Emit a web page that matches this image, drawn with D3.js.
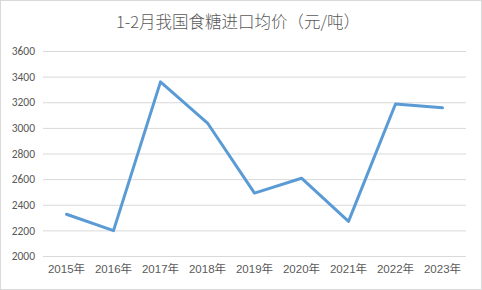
<!DOCTYPE html>
<html>
<head>
<meta charset="utf-8">
<script src="https://cdn.jsdelivr.net/npm/d3@7"></script>
<style>
  body { margin: 0; background: #fff; }
  svg { display: block; }
  .tick text { font-family: Calibri, Carlito, "Liberation Sans", "Noto Sans CJK SC", sans-serif; fill: #595959; }
</style>
</head>
<body>
<svg id="chart"></svg>
<script>
// data
const years  = ["2015年","2016年","2017年","2018年","2019年","2020年","2021年","2022年","2023年"];
const prices = [2326, 2198, 3359, 3038, 2491, 2607, 2270, 3186, 3157];
const yTicks = [2000, 2200, 2400, 2600, 2800, 3000, 3200, 3400, 3600];

const width     = 482,
      height    = 290,
      plotLeft  = 43,
      plotRight = 466,
      plotTop   = 51,
      plotBot   = 256;

const svg = d3.select('#chart')
              .attr('width', width)
              .attr('height', height);

svg.append('rect')
   .attr('x', 0.5).attr('y', 0.5)
   .attr('width', width - 1).attr('height', height - 1)
   .attr('fill', '#fff')
   .attr('stroke', '#d9d9d9');

svg.append('text')
   .attr('x', 238).attr('y', 28)
   .attr('text-anchor', 'middle')
   .attr('font-family', '"Noto Sans CJK SC", sans-serif')
   .attr('font-weight', 300)
   .attr('font-size', 16.5)
   .attr('fill', '#595959')
   .text('1-2月我国食糖进口均价（元/吨）');

const xScale = d3.scaleBand()
                 .domain(years)
                 .range([plotLeft, plotRight]);

const yScale = d3.scaleLinear()
                 .domain([2000, 3600])
                 .range([plotBot, plotTop]);

// grid + y labels
const yAxis = svg.append('g')
   .attr('transform', `translate(${plotLeft},0)`)
   .call(d3.axisLeft(yScale).tickValues(yTicks).tickFormat(d3.format('d'))
           .tickSize(-(plotRight - plotLeft)).tickPadding(8));
yAxis.select('.domain').remove();
yAxis.selectAll('line').attr('stroke', '#d9d9d9');
yAxis.selectAll('text').attr('font-size', 11.5);

const xAxis = svg.append('g')
   .attr('transform', `translate(0,${plotBot})`)
   .call(d3.axisBottom(xScale).tickSize(0).tickPadding(9));
xAxis.select('.domain').remove();
xAxis.selectAll('text').attr('font-size', 11.5)
     .style('font-family', '"Liberation Sans", "Noto Sans CJK SC", sans-serif');

const line = d3.line()
               .x((d, i) => xScale(years[i]) + xScale.bandwidth() / 2)
               .y(d => yScale(d));

svg.append('path')
   .datum(prices)
   .attr('d', line)
   .attr('fill', 'none')
   .attr('stroke', '#5b9bd5')
   .attr('stroke-width', 3)
   .attr('stroke-linejoin', 'round')
   .attr('stroke-linecap', 'round');
</script>
</body>
</html>
